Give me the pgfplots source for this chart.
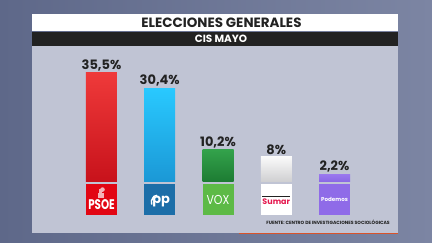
\documentclass[border=0pt]{standalone}
\usepackage{pgfplots}
\pgfplotsset{compat=1.18}
\usepackage{graphicx}
\usepackage{fontspec}
\setmainfont{Poppins}
\definecolor{bgL}{HTML}{5E6889}
\definecolor{bgR}{HTML}{7C85A3}
\definecolor{panel}{HTML}{C0C4D4}
\definecolor{band}{HTML}{222222}
\definecolor{orln}{HTML}{D9532A}
\definecolor{psoeT}{HTML}{EF3A3A}
\definecolor{psoeB}{HTML}{C8121B}
\definecolor{ppT}{HTML}{29C9FF}
\definecolor{ppB}{HTML}{1B98D6}
\definecolor{voxT}{HTML}{33A24B}
\definecolor{voxB}{HTML}{1D7C33}
\definecolor{sumT}{HTML}{FAFAFA}
\definecolor{sumB}{HTML}{D0D0D2}
\definecolor{podT}{HTML}{9A78EE}
\definecolor{podB}{HTML}{8B68E6}
\definecolor{psoeL}{HTML}{E20613}
\definecolor{rose}{HTML}{F3B3B8}
\definecolor{ppL}{HTML}{1C6EA8}
\definecolor{voxL}{HTML}{5DBA46}
\definecolor{sumL}{HTML}{E5194F}
\definecolor{podL}{HTML}{8F6BE8}
\definecolor{txt}{HTML}{222222}
\begin{document}
\begin{tikzpicture}
\begin{scope}[x=1bp,y=1bp]
\shade[left color=bgL, right color=bgR] (0,0) rectangle (432,243);
\fill[panel] (32,10.5) rectangle (398,197);
\fill[white] (32,212) rectangle (398,229);
\fill[band] (32,197) rectangle (398,211);
\node[txt, font=\bfseries\fontsize{13.5}{14}\selectfont, inner sep=0] at (221.5,220.3) {ELECCIONES GENERALES};
\node[white, font=\bfseries\fontsize{10.5}{11}\selectfont, inner sep=0] at (221,204) {CIS MAYO};
\fill[orln] (239,8.7) rectangle (398,10.5);
\node[txt, font=\bfseries\fontsize{4.6}{5}\selectfont, inner sep=0, anchor=east] at (390,21) {FUENTE: CENTRO DE INVESTIGACIONES SOCIOLÓGICAS};
\end{scope}
\begin{axis}[at={(32bp,10.5bp)}, anchor=south west, scale only axis,
  width=366bp, height=186.5bp,
  xmin=-1.193, xmax=5.09, ymin=-16.82, ymax=44.16,
  axis lines=none, clip=false,
  every node near coord/.append style={txt, font=\bfseries\fontsize{13}{13}\selectfont, inner sep=1.5bp, yshift=0bp},
  nodes near coords, point meta=explicit symbolic]
\addplot[ybar, bar width=31bp, bar shift=0pt, draw=none, top color=psoeT, bottom color=psoeB] coordinates {(0,35.5) [35,5\%]};
\addplot[ybar, bar width=31bp, bar shift=0pt, draw=none, top color=ppT, bottom color=ppB] coordinates {(1,30.4) [30,4\%]};
\addplot[ybar, bar width=31bp, bar shift=0pt, draw=none, top color=voxT, bottom color=voxB] coordinates {(2,10.2) [10,2\%]};
\addplot[ybar, bar width=31bp, bar shift=0pt, draw=none, top color=sumT, bottom color=sumB] coordinates {(3,8) [8\%]};
\addplot[ybar, bar width=31bp, bar shift=0pt, draw=none, top color=podT, bottom color=podB] coordinates {(4,2.2) [2,2\%]};
% logos
\node[fill=psoeL, minimum width=31bp, minimum height=31bp, inner sep=0, anchor=north] (l0) at (axis cs:0,-0.92) {};
\node[white, font=\bfseries\fontsize{14}{14}\selectfont, inner sep=0] at ([yshift=-5bp]l0.center) {\scalebox{0.74}[1]{PSOE}};
\fill[rose] ([xshift=-3.5bp,yshift=2bp]l0.center) rectangle ([xshift=2.5bp,yshift=7bp]l0.center);
\fill[rose] ([xshift=1bp,yshift=10bp]l0.center) circle (2.3bp);
\fill[rose] ([xshift=-2bp,yshift=7bp]l0.center) rectangle ([xshift=1bp,yshift=11bp]l0.center);
\node[fill=ppL, minimum width=31bp, minimum height=31bp, inner sep=0, anchor=north] (l1) at (axis cs:1,-0.92) {};
\node[white, font=\bfseries\fontsize{13}{12}\selectfont, inner sep=0] at ([xshift=1.5bp,yshift=-2bp]l1.center) {pp};
\draw[white, line width=1.4bp] ([xshift=-8bp,yshift=-5bp]l1.center) arc[start angle=200, end angle=100, radius=7bp];
\node[fill=voxL, minimum width=31bp, minimum height=31bp, inner sep=0, anchor=north] (l2) at (axis cs:2,-0.92) {};
\node[white, font=\fontsize{13}{12}\selectfont, inner sep=0] at (l2.center) {\scalebox{0.85}[1]{VOX}};
\node[fill=white, minimum width=31bp, minimum height=31bp, inner sep=0, anchor=north] (l3) at (axis cs:3,-0.92) {};
\fill[band] ([xshift=-14bp,yshift=3bp]l3.center) rectangle ([xshift=14bp,yshift=4bp]l3.center);
\node[sumL, font=\bfseries\fontsize{8}{8}\selectfont, inner sep=0] at ([yshift=-2.5bp]l3.center) {Sumar};
\node[fill=podL, minimum width=31bp, minimum height=31bp, inner sep=0, anchor=north] (l4) at (axis cs:4,-0.92) {};
\node[white, font=\bfseries\fontsize{5.6}{6}\selectfont, inner sep=0] at (l4.center) {Podemos};
\end{axis}
\end{tikzpicture}
\end{document}
